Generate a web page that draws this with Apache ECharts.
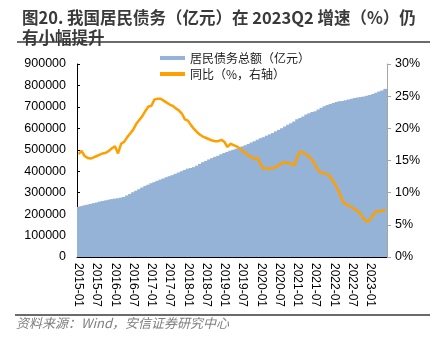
<!DOCTYPE html>
<html>
<head>
<meta charset="utf-8">
<script src="https://cdn.jsdelivr.net/npm/echarts@6/dist/echarts.min.js"></script>
<style>
html,body{margin:0;padding:0;background:#fff;}
#c{width:433px;height:345px;}
</style>
</head>
<body>
<div id="c"></div>
<script>
// Months 2015-01 .. 2023-06
var months = [];
for (var y = 2015; y <= 2023; y++) {
  for (var m = 1; m <= 12; m++) {
    if (y === 2023 && m > 6) break;
    months.push(y + '-' + (m < 10 ? '0' + m : m));
  }
}
// 居民债务总额（亿元）
var debt = [
  234000,237000,241000,244000,247000,251000,254000,258000,261000,264000,267000,270000,
  272000,274000,277000,280000,287000,294000,302000,309000,316000,324000,331000,337000,
  344000,349000,355000,361000,366000,372000,377000,382000,388000,394000,400000,406000,
  412000,415000,419000,426000,434000,442000,448000,455000,461000,467000,472000,479000,
  485000,490000,496000,500000,505000,510000,516000,521000,527000,534000,540000,547000,
  554000,559000,566000,572000,578000,586000,593000,600000,608000,617000,624000,632000,
  642000,648000,655000,664000,670000,676000,680000,688000,696000,703000,709000,714000,
  718000,723000,726000,728000,731000,734000,738000,742000,744000,746000,749000,752000,
  755000,760000,766000,772000,776000,784000
];
// 同比（%）
var yoy = [
  16.0,16.5,15.7,15.4,15.3,15.5,15.7,15.9,16.1,16.2,16.5,16.9,
  17.2,16.1,17.6,17.9,18.6,19.2,19.8,20.7,21.3,21.9,22.7,23.4,
  23.5,24.5,24.6,24.6,24.3,24.0,23.7,23.5,23.1,22.8,22.3,21.4,
  21.2,20.5,19.9,19.4,19.0,18.7,18.5,18.3,18.1,18.0,18.0,18.2,
  17.9,17.1,17.6,17.4,17.2,16.9,16.5,16.1,15.8,15.5,15.2,15.4,
  14.3,13.7,13.7,13.8,13.8,14.0,14.3,14.6,14.7,14.6,14.5,14.2,
  15.6,16.4,16.2,15.9,15.5,15.0,14.2,13.4,13.1,13.0,12.8,12.4,
  11.6,10.8,9.8,8.6,8.2,8.0,7.7,7.4,7.1,6.6,5.8,5.5,
  5.8,6.6,7.1,7.1,7.2,7.3
];
var seriesNames = ['居民债务总额（亿元）', '同比（%，右轴）'];
var titleText = '图20. 我国居民债务（亿元）在 2023Q2 增速（%）仍\n有小幅提升';
var sourceText = '资料来源：Wind，安信证券研究中心';

var chart = echarts.init(document.getElementById('c'));
var numFont = 'Liberation Sans, Arial, sans-serif';
var cjkFont = 'Noto Sans CJK SC, sans-serif';
chart.setOption({
  animation: false,
  title: {
    text: titleText,
    left: 17, top: 3,
    textStyle: {fontFamily: cjkFont, fontSize: 16.5, fontWeight: 'bold', color: '#3a3a3a', lineHeight: 20}
  },
  legend: {
    orient: 'vertical',
    left: 155, top: 47,
    itemWidth: 25, itemHeight: 4, itemGap: 4,
    textStyle: {fontFamily: cjkFont, fontSize: 12, color: '#1a1a1a'},
    data: [
      {name: seriesNames[0], icon: 'rect'},
      {name: seriesNames[1], icon: 'rect'}
    ]
  },
  grid: {left: 77, right: 46, top: 64, bottom: 88},
  xAxis: {
    type: 'category',
    data: months,
    boundaryGap: true,
    axisLine: {lineStyle: {color: '#000', width: 1}},
    axisTick: {inside: true, length: 4, interval: 5, lineStyle: {color: '#000'}},
    axisLabel: {interval: 5, rotate: -90, fontFamily: numFont, fontSize: 12, color: '#000', margin: 6}
  },
  yAxis: [
    {
      type: 'value', min: 0, max: 900000, interval: 100000,
      splitLine: {show: false},
      axisLine: {show: true, lineStyle: {color: '#000'}},
      axisTick: {show: true, inside: true, length: 3, lineStyle: {color: '#000'}},
      axisLabel: {formatter: function (v) { return String(v); }, fontFamily: numFont, fontSize: 12.5, color: '#000', margin: 11}
    },
    {
      type: 'value', min: 0, max: 30, interval: 5,
      splitLine: {show: false},
      axisLine: {show: true, lineStyle: {color: '#a6a6a6'}},
      axisTick: {show: true, inside: false, length: 4, lineStyle: {color: '#a6a6a6'}},
      axisLabel: {formatter: '{value}%', fontFamily: numFont, fontSize: 12.5, color: '#000', margin: 8}
    }
  ],
  series: [
    {
      name: seriesNames[0], type: 'bar', data: debt,
      barWidth: 4.2,
      itemStyle: {color: '#95B3D7'}
    },
    {
      name: seriesNames[1], type: 'line', yAxisIndex: 1, data: yoy,
      showSymbol: false, symbol: 'none',
      lineStyle: {color: '#FF9F00', width: 2.5},
      itemStyle: {color: '#FF9F00'}
    }
  ],
  graphic: [
    {type: 'line', shape: {x1: 17, y1: 42, x2: 430, y2: 42}, style: {stroke: '#3a3a3a', lineWidth: 1.5}},
    {type: 'line', shape: {x1: 15, y1: 315, x2: 430, y2: 315}, style: {stroke: '#3a3a3a', lineWidth: 1.5}},
    {type: 'text', x: 16, y: 323, style: {text: sourceText, fontFamily: cjkFont, fontSize: 13, fontStyle: 'italic', fill: '#7f7f7f', verticalAlign: 'middle'}}
  ]
});
</script>
</body>
</html>
